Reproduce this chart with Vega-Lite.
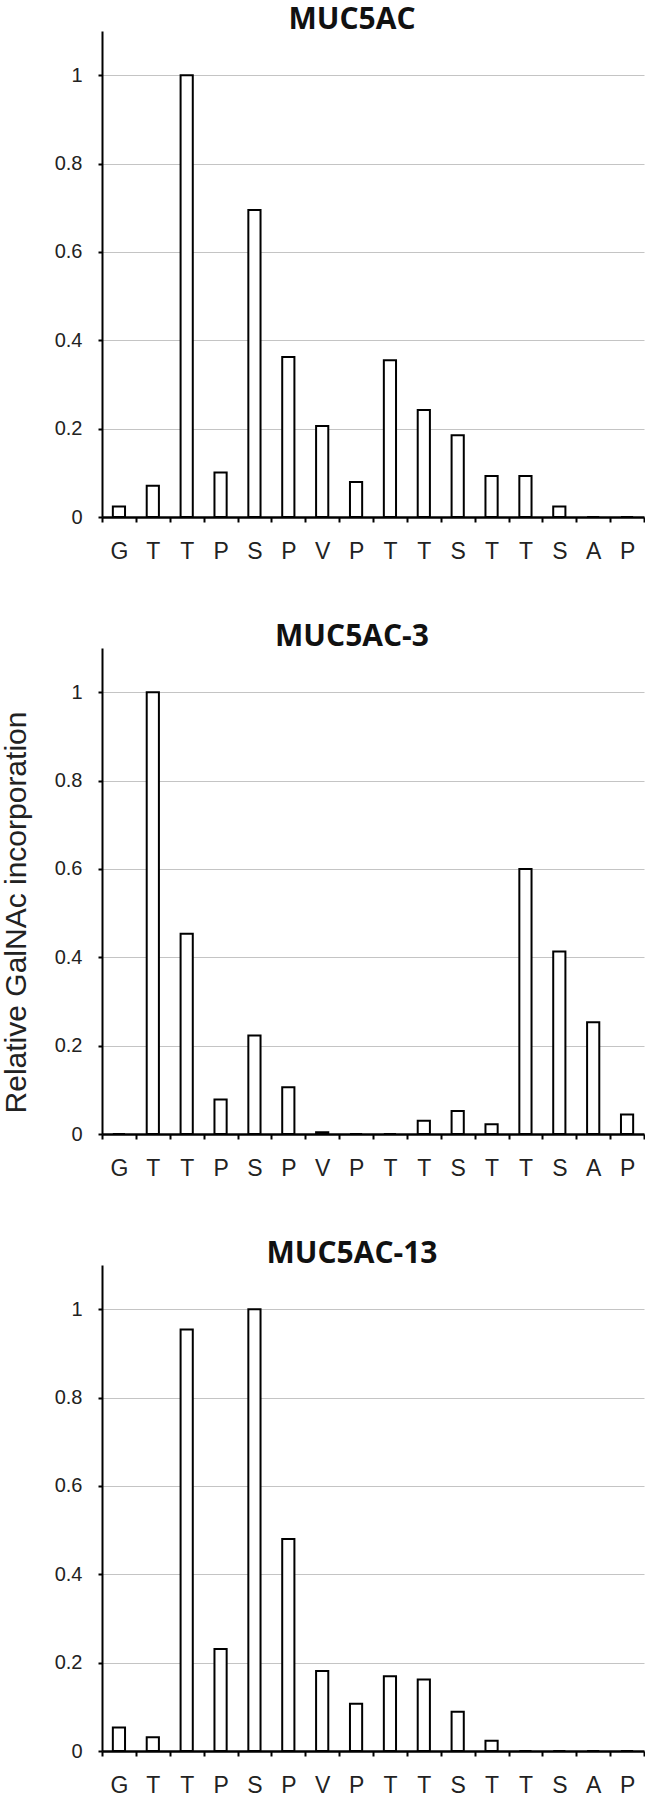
{
  "$schema": "https://vega.github.io/schema/vega-lite/v6.json",
  "background": "white",
  "padding": {"left": 1, "top": 5, "right": 0, "bottom": 0},
  "data": {
    "values": [
      {"panel": "MUC5AC", "site": "G1", "value": 0.024},
      {"panel": "MUC5AC", "site": "T2", "value": 0.071},
      {"panel": "MUC5AC", "site": "T3", "value": 1.0},
      {"panel": "MUC5AC", "site": "P4", "value": 0.101},
      {"panel": "MUC5AC", "site": "S5", "value": 0.695},
      {"panel": "MUC5AC", "site": "P6", "value": 0.362},
      {"panel": "MUC5AC", "site": "V7", "value": 0.206},
      {"panel": "MUC5AC", "site": "P8", "value": 0.079},
      {"panel": "MUC5AC", "site": "T9", "value": 0.355},
      {"panel": "MUC5AC", "site": "T10", "value": 0.242},
      {"panel": "MUC5AC", "site": "S11", "value": 0.185},
      {"panel": "MUC5AC", "site": "T12", "value": 0.093},
      {"panel": "MUC5AC", "site": "T13", "value": 0.093},
      {"panel": "MUC5AC", "site": "S14", "value": 0.024},
      {"panel": "MUC5AC", "site": "A15", "value": 0},
      {"panel": "MUC5AC", "site": "P16", "value": 0},
      {"panel": "MUC5AC-3", "site": "G1", "value": 0},
      {"panel": "MUC5AC-3", "site": "T2", "value": 1.0},
      {"panel": "MUC5AC-3", "site": "T3", "value": 0.453},
      {"panel": "MUC5AC-3", "site": "P4", "value": 0.078},
      {"panel": "MUC5AC-3", "site": "S5", "value": 0.223},
      {"panel": "MUC5AC-3", "site": "P6", "value": 0.106},
      {"panel": "MUC5AC-3", "site": "V7", "value": 0.004},
      {"panel": "MUC5AC-3", "site": "P8", "value": 0},
      {"panel": "MUC5AC-3", "site": "T9", "value": 0},
      {"panel": "MUC5AC-3", "site": "T10", "value": 0.03},
      {"panel": "MUC5AC-3", "site": "S11", "value": 0.052},
      {"panel": "MUC5AC-3", "site": "T12", "value": 0.022},
      {"panel": "MUC5AC-3", "site": "T13", "value": 0.6},
      {"panel": "MUC5AC-3", "site": "S14", "value": 0.413},
      {"panel": "MUC5AC-3", "site": "A15", "value": 0.253},
      {"panel": "MUC5AC-3", "site": "P16", "value": 0.044},
      {"panel": "MUC5AC-13", "site": "G1", "value": 0.053},
      {"panel": "MUC5AC-13", "site": "T2", "value": 0.031},
      {"panel": "MUC5AC-13", "site": "T3", "value": 0.954},
      {"panel": "MUC5AC-13", "site": "P4", "value": 0.231},
      {"panel": "MUC5AC-13", "site": "S5", "value": 1.0},
      {"panel": "MUC5AC-13", "site": "P6", "value": 0.48},
      {"panel": "MUC5AC-13", "site": "V7", "value": 0.181},
      {"panel": "MUC5AC-13", "site": "P8", "value": 0.107},
      {"panel": "MUC5AC-13", "site": "T9", "value": 0.169},
      {"panel": "MUC5AC-13", "site": "T10", "value": 0.162},
      {"panel": "MUC5AC-13", "site": "S11", "value": 0.089},
      {"panel": "MUC5AC-13", "site": "T12", "value": 0.023},
      {"panel": "MUC5AC-13", "site": "T13", "value": 0},
      {"panel": "MUC5AC-13", "site": "S14", "value": 0},
      {"panel": "MUC5AC-13", "site": "A15", "value": 0},
      {"panel": "MUC5AC-13", "site": "P16", "value": 0}
    ]
  },
  "bounds": "flush",
  "spacing": 131,
  "vconcat": [
    {
      "title": {"text": "MUC5AC"},
      "width": 542,
      "height": 486,
      "transform": [{"filter": "datum.panel === 'MUC5AC'"}],
      "mark": {"type": "bar", "fill": "white", "stroke": "black", "strokeWidth": 2, "width": {"band": 0.36}},
      "encoding": {
        "x": {"field": "site", "type": "nominal", "sort": null, "scale": {"paddingInner": 0, "paddingOuter": 0}},
        "y": {"field": "value", "type": "quantitative", "scale": {"domain": [0, 1.1], "nice": false, "zero": true}, "axis": {"title": null, "values": [0, 0.2, 0.4, 0.6, 0.8, 1]}}
      }
    },
    {
      "title": {"text": "MUC5AC-3"},
      "width": 542,
      "height": 486,
      "transform": [{"filter": "datum.panel === 'MUC5AC-3'"}],
      "mark": {"type": "bar", "fill": "white", "stroke": "black", "strokeWidth": 2, "width": {"band": 0.36}},
      "encoding": {
        "x": {"field": "site", "type": "nominal", "sort": null, "scale": {"paddingInner": 0, "paddingOuter": 0}},
        "y": {"field": "value", "type": "quantitative", "scale": {"domain": [0, 1.1], "nice": false, "zero": true}, "axis": {"title": "Relative GalNAc incorporation", "titleY": 264, "values": [0, 0.2, 0.4, 0.6, 0.8, 1]}}
      }
    },
    {
      "title": {"text": "MUC5AC-13"},
      "width": 542,
      "height": 486,
      "transform": [{"filter": "datum.panel === 'MUC5AC-13'"}],
      "mark": {"type": "bar", "fill": "white", "stroke": "black", "strokeWidth": 2, "width": {"band": 0.36}},
      "encoding": {
        "x": {"field": "site", "type": "nominal", "sort": null, "scale": {"paddingInner": 0, "paddingOuter": 0}},
        "y": {"field": "value", "type": "quantitative", "scale": {"domain": [0, 1.1], "nice": false, "zero": true}, "axis": {"title": null, "values": [0, 0.2, 0.4, 0.6, 0.8, 1]}}
      }
    }
  ],
  "config": {
    "view": {"stroke": null},
    "title": {"font": "Open Sans", "fontSize": 30, "fontWeight": "bold", "color": "#111111", "frame": "group", "anchor": "middle", "dx": -21, "baseline": "alphabetic", "offset": -4},
    "axisX": {
      "title": null,
      "labelExpr": "substring(datum.label, 0, 1)",
      "labelAngle": 0,
      "labelFont": "Liberation Sans",
      "labelFontSize": 23,
      "labelColor": "#222222",
      "labelPadding": 18,
      "tickBand": "extent",
      "tickSize": 5,
      "tickWidth": 2,
      "tickColor": "black",
      "domainColor": "black",
      "domainWidth": 2.5,
      "grid": false
    },
    "axisY": {
      "format": "~g",
      "labelFont": "Liberation Sans",
      "labelFontSize": 20,
      "labelColor": "#222222",
      "labelPadding": 16,
      "tickSize": 4,
      "tickWidth": 2,
      "tickColor": "black",
      "domainColor": "black",
      "domainWidth": 2,
      "grid": true,
      "gridColor": "#c4c4c4",
      "gridWidth": 1,
      "titleFont": "Liberation Sans",
      "titleFontSize": 30,
      "titleFontWeight": "normal",
      "titleColor": "#222222",
      "titlePadding": 23
    }
  }
}
